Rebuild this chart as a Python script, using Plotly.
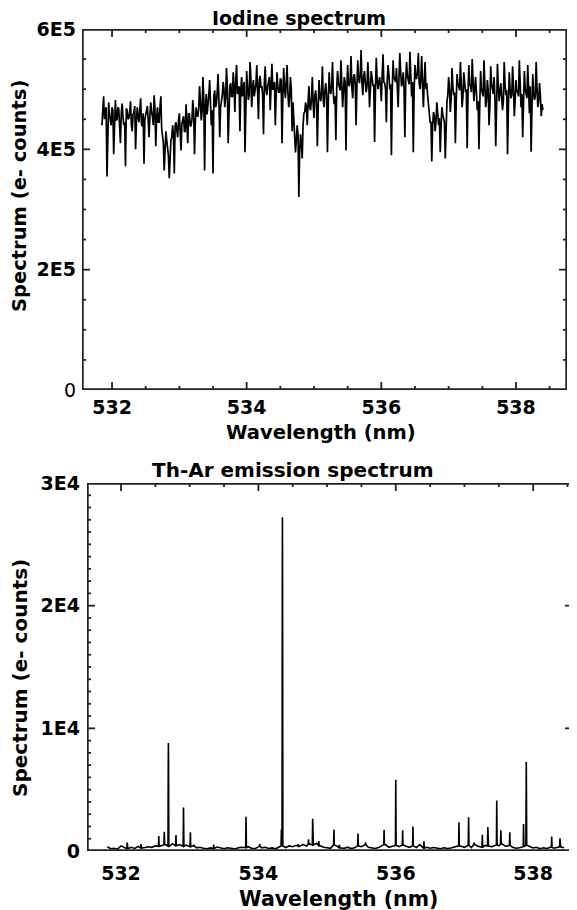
import numpy as np
import plotly.graph_objects as go

# ---------------- Iodine spectrum (values in thousands of e- counts) -------------
iodine_wl_start = 531.85
iodine_wl_end = 538.40
# main samples (spikes / deep lines)
iodine_kcounts = [
    440, 488, 462, 355, 478, 445, 470, 392, 482, 450, 468, 410, 476, 440, 372, 465, 452, 480,
    430, 462, 400, 470, 445, 485, 438, 376, 460, 472, 420, 478, 455, 490, 405, 470, 445, 488,
    420, 365, 430, 395, 352, 415,
    440, 360, 445, 420, 460, 398, 448, 430, 475, 410, 458, 440, 482, 392, 470,
    455, 505, 448, 520, 365, 492, 470, 515, 440, 360, 498, 475, 525, 420,
    480, 512, 470, 535, 410, 505, 488, 528, 462, 540, 495, 430, 520, 500, 395, 530, 482, 545,
    470, 515, 498, 540, 450, 522, 505, 425, 538, 490, 512, 465, 542, 500, 440, 528, 495, 518,
    410, 535, 485, 540, 470, 520, 430,
    455, 395, 440, 321, 425, 385,
    460, 478, 440, 505, 465, 520, 452, 498, 405, 515, 480, 538, 470, 510, 395, 528, 492, 545,
    475, 415, 530, 500, 548, 470, 520, 398, 540, 505, 555, 485, 525, 440, 548, 510, 565, 490, 530,
    495, 545, 470, 530, 505, 412, 552, 500, 520, 480, 558, 510, 445, 540, 500, 390, 548, 515,
    535, 470, 560, 505, 528, 420, 545, 512, 562, 488, 395, 540, 518, 560, 500, 555, 470, 545, 510,
    470, 445, 380, 462, 430, 478, 440, 395, 470, 450, 385,
    480, 520, 462, 535, 490, 410, 525, 500, 545, 470, 528, 495, 402, 540, 505, 550, 480,
    520, 465, 400, 530, 490, 548, 470, 515, 440, 538, 495, 520, 405, 542, 480, 510, 465, 545,
    490, 392, 528, 485, 538, 455, 515, 498, 548, 470, 420, 530, 488, 540, 460, 396, 525, 482,
    545, 470, 510, 455, 465,
]
# in-between samples (dense core of the band)
iodine_kcounts_mid = [
    462, 450, 470, 445, 458, 440, 465, 452, 448, 470, 438, 460, 455, 445, 468, 450, 462, 440,
    458, 472, 446, 455, 465, 442, 460, 450, 470, 448, 455, 462, 440, 468, 452, 445, 470, 435,
    410, 398, 415, 390, 405, 420,
    425, 440, 432, 448, 428, 442, 455, 430, 445, 460, 438, 450, 462, 445, 455,
    468, 480, 462, 485, 472, 458, 490, 478, 465, 488, 470, 495, 482, 470,
    490, 500, 485, 505, 495, 510, 488, 502, 515, 492, 505, 498, 488, 512, 495, 505, 490, 518,
    500, 488, 508, 495, 515, 502, 490, 510, 498, 505, 520, 492, 500, 512, 488, 505, 495, 515,
    490, 502, 510, 495, 485, 500, 478,
    430, 415, 425, 398, 410, 440,
    462, 470, 480, 468, 485, 475, 490, 478, 470, 488, 495, 482, 498, 490, 478, 500, 505, 492,
    488, 502, 510, 498, 505, 495, 512, 500, 508, 515, 502, 520, 510, 505, 518, 525, 510, 520, 512,
    505, 515, 500, 520, 508, 495, 518, 510, 505, 522, 512, 500, 515, 525, 508, 498, 520, 512,
    505, 518, 528, 510, 502, 515, 522, 508, 525, 512, 500, 518, 530, 510, 520, 505, 515, 500, 490,
    460, 445, 440, 455, 448, 460, 452, 438, 458, 445, 465,
    490, 500, 485, 505, 495, 480, 510, 498, 505, 488, 512, 500, 490, 508, 495, 515, 500,
    495, 480, 475, 500, 488, 505, 482, 498, 470, 510, 492, 485, 478, 505, 495, 488, 480, 508,
    498, 470, 500, 490, 505, 480, 495, 488, 510, 492, 478, 500, 485, 498, 505, 470, 492, 488,
    502, 480, 490, 475,
]

# ---------------- Th-Ar emission spectrum ----------------
thar_base_start = 531.80
thar_base_end = 538.45
thar_baseline = [
    350, 180, 220, 150, 420, 260, 190, 300, 210, 380, 240, 280, 350, 300, 420, 380, 450, 520,
    380, 600, 420, 520, 380, 480, 350, 420, 260, 300, 220, 180, 250, 200, 320, 230, 180, 260,
    210, 170, 240, 300, 280, 350, 220, 190, 380, 260, 300, 210, 250, 180, 300, 400, 280, 420,
    350, 460, 380, 520, 400, 560, 480, 620, 420, 300, 260, 220, 500, 380, 250, 220, 310, 200,
    260, 420, 350, 520, 300, 250, 210, 280, 420, 520, 300, 380, 450, 360, 500, 380, 300, 420,
    280, 520, 240, 300, 220, 280, 240, 190, 260, 200, 240, 300, 420, 380, 300, 450, 280, 520,
    380, 300, 450, 400, 350, 500, 420, 560, 380, 460, 300, 220, 260, 350, 480, 380, 250, 300,
    180, 260, 200, 300, 230, 280, 340, 260,
]
thar_peak_wl = [532.09, 532.29, 532.55, 532.63, 532.69, 532.80, 532.91, 533.01, 533.06, 533.35,
                533.82, 534.02, 534.335, 534.35, 534.58, 534.73, 534.79, 534.88, 535.10, 535.18,
                535.45, 535.56, 535.83, 536.00, 536.10, 536.25, 536.41, 536.92, 537.06, 537.14,
                537.26, 537.34, 537.47, 537.53, 537.66, 537.86, 537.90, 538.27, 538.39]
thar_peak_top = [680, 560, 1220, 1570, 8800, 1300, 3550, 1520, 500, 520,
                 2800, 560, 1760, 27200, 560, 950, 2630, 810, 1760, 500,
                 1420, 700, 1730, 5800, 1680, 2000, 800, 2340, 2750, 680,
                 1330, 1950, 4120, 1680, 1520, 2200, 7250, 1180, 1040]
thar_peak_inner = [0, 0, 0, 0, 7180, 0, 2170, 0, 0, 0,
                   1700, 0, 0, 21600, 0, 0, 0, 0, 0, 0,
                   0, 0, 0, 0, 0, 0, 0, 0, 1700, 0,
                   0, 0, 0, 0, 0, 0, 5000, 0, 0]

# tick positions / labels
wl_major = [532, 534, 536, 538]
wl_minor = [532.5, 533, 533.5, 534.5, 535, 535.5, 536.5, 537, 537.5, 538.5]
iod_major = [0, 2e5, 4e5, 6e5]
iod_major_text = ["0", "<b>2E5</b>", "<b>4E5</b>", "<b>6E5</b>"]
iod_minor = [5e4, 1e5, 1.5e5, 2.5e5, 3e5, 3.5e5, 4.5e5, 5e5, 5.5e5]
thar_major = [0, 1e4, 2e4, 3e4]
thar_major_text = ["0", "1E4", "2E4", "3E4"]
thar_minor = [v * 1e3 for v in range(1, 30) if v % 10]

# ---------------- build traces ----------------
n_main = len(iodine_kcounts)
n_mid = min(len(iodine_kcounts_mid), n_main - 1)
iod_vals = []
for i in range(n_main):
    iod_vals.append(iodine_kcounts[i])
    if i < n_mid:
        iod_vals.append(iodine_kcounts_mid[i])
iodine_wl = np.linspace(iodine_wl_start, iodine_wl_end, len(iod_vals))
iodine_counts = np.array(iod_vals) * 1000.0

base_wl = np.linspace(thar_base_start, thar_base_end, len(thar_baseline))
pts = []
for w, c in zip(base_wl, thar_baseline):
    if min(abs(w - p) for p in thar_peak_wl) > 0.008:
        pts.append((w, c))
for p, top, inner in zip(thar_peak_wl, thar_peak_top, thar_peak_inner):
    foot = thar_baseline[int(np.argmin(np.abs(base_wl - p)))]
    if inner:
        pts += [(p - 0.006, foot), (p - 0.002, inner), (p, top), (p + 0.002, inner), (p + 0.006, foot)]
    else:
        pts += [(p - 0.005, foot), (p, top), (p + 0.005, foot)]
pts.sort(key=lambda t: t[0])
thar_x = [t[0] for t in pts]
thar_y = [t[1] for t in pts]

# ---------------- layout geometry (page pixels; page has an 8px body margin) ----
OFF = 8
W, H = 577 - OFF, 910 - OFF
FONT = "DejaVu Sans"
AX = "#222222"


def px(x):
    return (x - OFF) / W


def py(y):
    return 1 - (y - OFF) / H


L1, R1, T1, B1 = 82, 567, 29, 390
L2, R2, T2, B2 = 87, 573, 483, 851
XR1 = [531.554, 538.758]
YR1 = [0, 6e5]
XR2 = [531.505, 538.58]
YR2 = [0, 3e4]

fig = go.Figure()


# ----- frame and tick marks, drawn as line traces on each subplot -----
def frame_and_ticks(xa, ya, xr, yr, wpx, hpx, xmaj, xmin, ymaj, ymin, sides, right_style=None):
    kx = (xr[1] - xr[0]) / wpx   # data units per pixel
    ky = (yr[1] - yr[0]) / hpx
    fx, fy = [], []
    edges = {"bottom": ([xr[0], xr[1]], [yr[0], yr[0]]),
             "top": ([xr[0], xr[1]], [yr[1], yr[1]]),
             "left": ([xr[0], xr[0]], [yr[0], yr[1]]),
             "right": ([xr[1], xr[1]], [yr[0], yr[1]])}
    for s in ["bottom", "top", "left"] + (["right"] if right_style is None else []):
        fx += edges[s][0] + [None]
        fy += edges[s][1] + [None]
    fig.add_trace(go.Scatter(x=fx, y=fy, mode="lines", xaxis=xa, yaxis=ya,
                             line=dict(color=AX, width=3.4), showlegend=False, hoverinfo="skip"))
    if right_style is not None:
        fig.add_trace(go.Scatter(x=edges["right"][0], y=edges["right"][1], mode="lines",
                                 xaxis=xa, yaxis=ya, line=right_style,
                                 showlegend=False, hoverinfo="skip"))
    tx, ty = [], []
    for v, ln in [(v, 8) for v in xmaj] + [(v, 4) for v in xmin]:
        if xr[0] < v < xr[1]:
            if "bottom" in sides:
                tx += [v, v, None]
                ty += [yr[0], yr[0] + ln * ky, None]
            if "top" in sides:
                tx += [v, v, None]
                ty += [yr[1], yr[1] - ln * ky, None]
    for v, ln in [(v, 8) for v in ymaj] + [(v, 4) for v in ymin]:
        if yr[0] < v < yr[1]:
            if "left" in sides:
                tx += [xr[0], xr[0] + ln * kx, None]
                ty += [v, v, None]
            if "right" in sides:
                tx += [xr[1], xr[1] - ln * kx, None]
                ty += [v, v, None]
    fig.add_trace(go.Scatter(x=tx, y=ty, mode="lines", xaxis=xa, yaxis=ya,
                             line=dict(color=AX, width=1.8), showlegend=False, hoverinfo="skip"))


fig.add_trace(go.Scatter(x=iodine_wl, y=iodine_counts, mode="lines",
                         line=dict(color="black", width=1.7), xaxis="x", yaxis="y",
                         showlegend=False, hoverinfo="skip"))
fig.add_trace(go.Scatter(x=thar_x, y=thar_y, mode="lines",
                         line=dict(color="black", width=1.6), xaxis="x2", yaxis="y2",
                         showlegend=False, hoverinfo="skip"))

frame_and_ticks("x", "y", XR1, YR1, R1 - L1, B1 - T1, wl_major, wl_minor, iod_major, iod_minor,
                sides=["bottom", "top", "left", "right"])
frame_and_ticks("x2", "y2", XR2, YR2, R2 - L2, B2 - T2, wl_major, wl_minor, thar_major, thar_minor,
                sides=["top", "left", "right"],
                right_style=dict(color="#9a9a9a", width=2, dash="dot"))

base_ax = dict(showline=False, ticks="", showgrid=False, zeroline=False, automargin=False,
               tickmode="array")

fig.update_layout(
    width=W, height=H, margin=dict(l=0, r=0, t=0, b=0, autoexpand=False),
    autosize=False,
    paper_bgcolor="white", plot_bgcolor="white",
    font=dict(family=FONT, color="black", size=19),
    xaxis=dict(domain=[px(L1), px(R1)], anchor="y", range=XR1, tickvals=wl_major,
               ticktext=[str(v) for v in wl_major], ticklabelstandoff=4,
               tickfont=dict(size=19, weight="bold"), **base_ax),
    yaxis=dict(domain=[py(B1), py(T1)], anchor="x", range=YR1, tickvals=iod_major,
               ticktext=iod_major_text, tickfont=dict(size=19), ticklabelstandoff=5, **base_ax),
    xaxis2=dict(domain=[px(L2), px(R2)], anchor="y2", range=XR2, tickvals=wl_major,
                ticktext=[str(v) for v in wl_major], ticklabelstandoff=9,
                tickfont=dict(size=19, weight="bold"), **base_ax),
    yaxis2=dict(domain=[py(B2), py(T2)], anchor="x2", range=YR2, tickvals=thar_major,
                ticktext=thar_major_text, tickfont=dict(size=19, weight="bold"),
                ticklabelstandoff=6, **base_ax),
)


def ann(text, x, y, size=19, angle=0):
    fig.add_annotation(text=text, xref="paper", yref="paper", x=px(x), y=py(y),
                       xanchor="center", yanchor="middle", showarrow=False, textangle=angle,
                       font=dict(family=FONT, size=size, color="black", weight="bold"))


ann("Iodine spectrum", 299, 18, size=19)
ann("Wavelength (nm)", 321, 432, size=19.5)
ann("Spectrum (e- counts)", 19, 196, size=19.5, angle=-90)
ann("Th-Ar emission spectrum", 293, 470, size=20)
ann("Wavelength (nm)", 338, 899, size=20.5)
ann("Spectrum (e- counts)", 20, 678, size=20, angle=-90)

fig.write_html("out.html")
